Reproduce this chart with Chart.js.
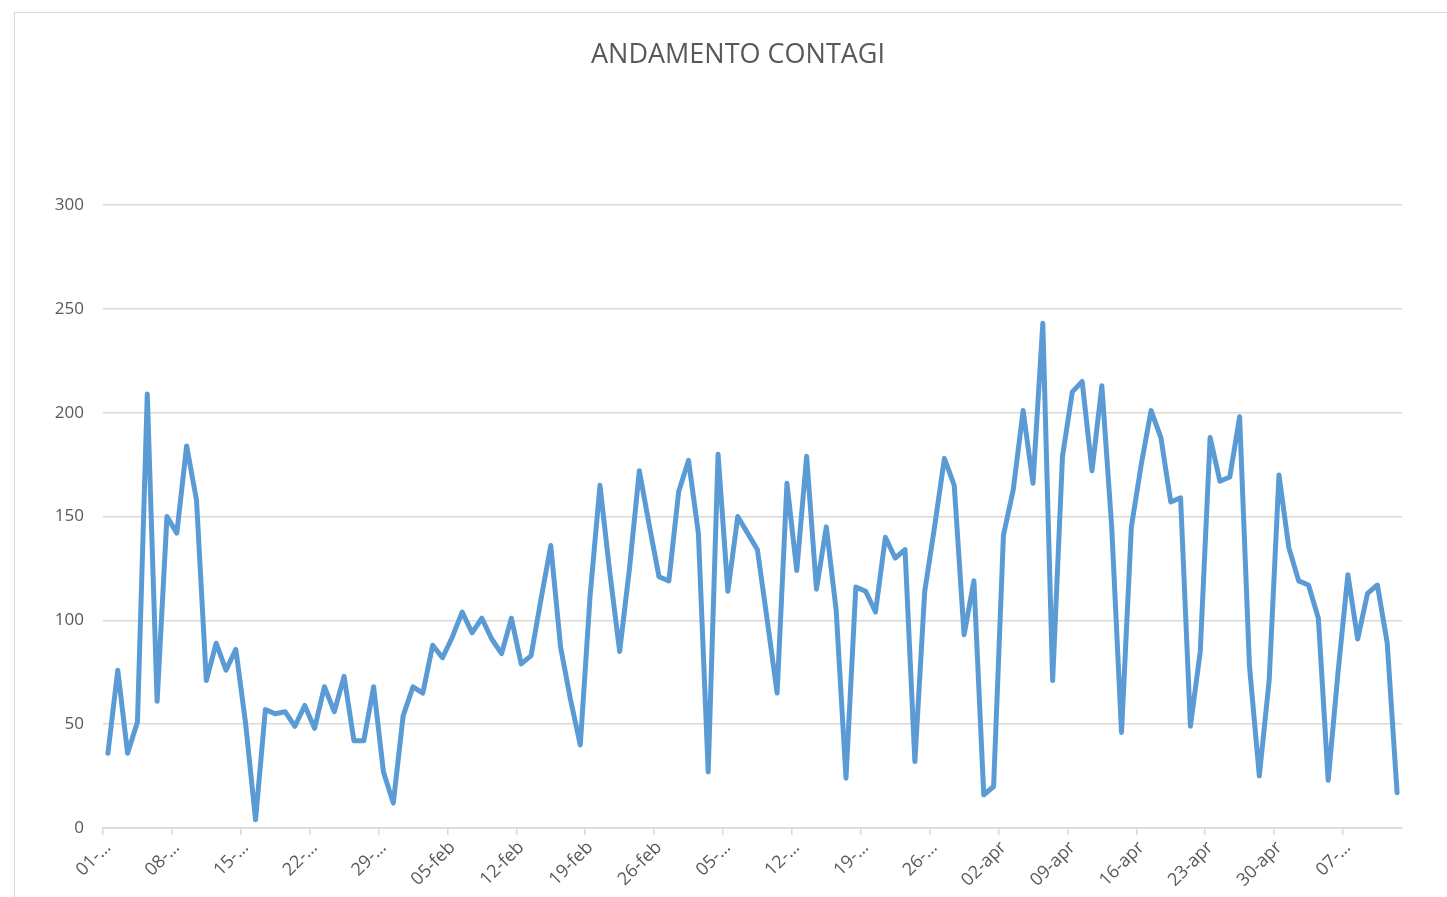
<!DOCTYPE html>
<html>
<head>
<meta charset="utf-8">
<script src="https://cdn.jsdelivr.net/npm/chart.js@4"></script>
<style>
  html, body { margin: 0; padding: 0; background: #fff; }
  #wrap { position: relative; width: 1447px; height: 897px; overflow: hidden; }
  #frame { position: absolute; left: 14px; top: 12px; width: 1450px; height: 900px; border: 1px solid #d9d9d9; }
  canvas { position: absolute; left: 0; top: 0; }
</style>
</head>
<body>
<div id="wrap">
  <div id="frame"></div>
  <canvas id="chartContagi" width="1447" height="897"></canvas>
</div>
<script>
// giorni dal 01-gen al 12-mag
const startDate = new Date(2021, 0, 1);
const dayCount = 132;
const monthNames = ['gen', 'feb', 'mar', 'apr', 'mag'];

// etichette mostrate sull'asse x (una ogni 7 giorni)
const tickLabels = ['01-…', '08-…', '15-…', '22-…', '29-…', '05-feb', '12-feb', '19-feb', '26-feb',
  '05-…', '12-…', '19-…', '26-…', '02-apr', '09-apr', '16-apr', '23-apr', '30-apr', '07-…'];

// contagi giornalieri
const contagi = [
  36, 76, 36, 51, 209, 61, 150, 142, 184, 158, 71, 89, 76, 86,
  50, 4, 57, 55, 56, 49, 59, 48, 68, 56, 73, 42, 42, 68,
  27, 12, 54, 68, 65, 88, 82, 92, 104, 94, 101, 91, 84, 101,
  79, 83, 110, 136, 87, 62, 40, 112, 165, 123, 85, 125, 172, 146,
  121, 119, 162, 177, 142, 27, 180, 114, 150, 142, 134, 100, 65, 166,
  124, 179, 115, 145, 105, 24, 116, 114, 104, 140, 130, 134, 32, 114,
  145, 178, 165, 93, 119, 16, 20, 141, 163, 201, 166, 243, 71, 179,
  210, 215, 172, 213, 145, 46, 145, 175, 201, 188, 157, 159, 49, 85,
  188, 167, 169, 198, 78, 25, 71, 170, 135, 119, 117, 101, 23, 75,
  122, 91, 113, 117, 89, 17
];

const yTicks = [0, 50, 100, 150, 200, 250, 300];
const titolo = 'ANDAMENTO CONTAGI';

const giorni = [];
for (let i = 0; i < dayCount; i++) {
  const d = new Date(startDate.getTime() + i * 86400000);
  giorni.push(String(d.getDate()).padStart(2, '0') + '-' + monthNames[d.getMonth()]);
}

const textColor = '#595959';
const gridColor = '#d9d9d9';
const lineColor = '#5b9bd5';

// titolo centrato sul riquadro del grafico (non sull'area del canvas)
const titoloPlugin = {
  id: 'titoloCentrato',
  afterDraw(chart) {
    const ctx = chart.ctx;
    ctx.save();
    ctx.fillStyle = textColor;
    ctx.font = 'normal 27px "Open Sans"';
    ctx.textAlign = 'center';
    ctx.textBaseline = 'middle';
    ctx.fillText(titolo, 738, 55);
    ctx.restore();
  }
};

new Chart(document.getElementById('chartContagi').getContext('2d'), {
  type: 'line',
  data: {
    labels: giorni,
    datasets: [{
      label: 'Contagi',
      data: contagi,
      borderColor: lineColor,
      backgroundColor: lineColor,
      borderWidth: 5,
      borderJoinStyle: 'round',
      borderCapStyle: 'round',
      pointRadius: 0,
      tension: 0,
      fill: false
    }]
  },
  plugins: [titoloPlugin],
  options: {
    responsive: false,
    animation: false,
    layout: { padding: { left: 0, right: 45, top: 205, bottom: 0 } },
    plugins: {
      legend: { display: false },
      tooltip: { enabled: false },
      title: { display: false }
    },
    scales: {
      x: {
        type: 'category',
        offset: true,
        grid: {
          offset: true,
          drawOnChartArea: false,
          drawTicks: true,
          tickLength: 7,
          lineWidth: 1.5,
          color: ctx => (ctx.index % 7 === 0 ? gridColor : 'rgba(0,0,0,0)')
        },
        border: { display: true, color: gridColor, width: 1.5 },
        ticks: {
          autoSkip: false,
          maxRotation: 45,
          minRotation: 45,
          padding: 2,
          color: textColor,
          font: { family: 'Open Sans', size: 18 },
          callback: (val, idx) => (idx % 7 === 0 ? tickLabels[idx / 7] : '')
        },
        afterFit: scale => { scale.height = 69; }
      },
      y: {
        min: 0,
        max: 300,
        afterBuildTicks: scale => { scale.ticks = yTicks.map(v => ({ value: v })); },
        grid: { color: gridColor, lineWidth: 1.5, drawTicks: false },
        border: { display: false },
        ticks: {
          padding: 19,
          color: textColor,
          font: { family: 'Open Sans', size: 17 }
        },
        afterFit: scale => { scale.width = 103; }
      }
    }
  }
});
</script>
</body>
</html>
